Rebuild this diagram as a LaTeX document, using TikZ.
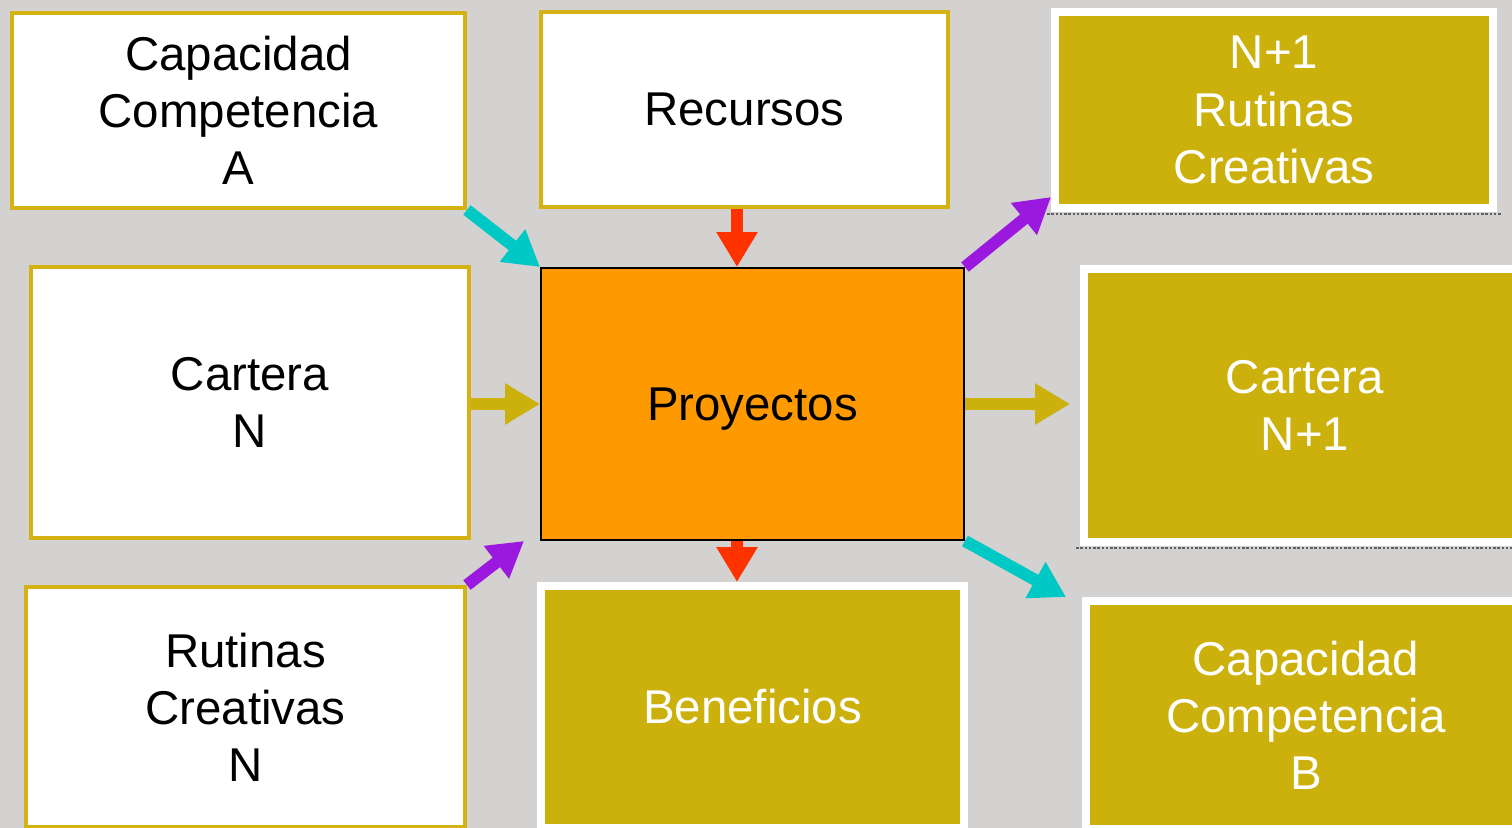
\documentclass[tikz,border=0pt]{standalone}
\usepackage{fontspec}
\setmainfont{Liberation Sans}
\usepackage{xcolor}
\usetikzlibrary{arrows.meta}
\definecolor{fondo}{RGB}{212,210,208}
\definecolor{borde}{RGB}{212,178,20}
\definecolor{oro}{RGB}{204,176,12}
\definecolor{naranja}{RGB}{255,153,0}
\definecolor{turquesa}{RGB}{0,200,196}
\definecolor{morado}{RGB}{155,25,222}
\definecolor{rojo}{RGB}{255,51,0}
\definecolor{sombragris}{RGB}{95,95,95}

\begin{document}
\begin{tikzpicture}[x=0.02cm, y=-0.02cm,
  caja/.style={draw=borde, line width=0.08cm, fill=white, inner sep=0pt, align=center, font=\fontsize{27}{32.5}\selectfont},
  cajaoro/.style={draw=white, line width=0.16cm, fill=oro, text=white, inner sep=0pt, align=center, font=\fontsize{27}{32.5}\selectfont},
  flecha/.style={line width=0.24cm, -{Triangle[length=0.7cm, width=0.78cm]}},
  sombra/.style={draw=sombragris, line width=0.05cm, densely dotted}]
\useasboundingbox (0,0) rectangle (1512,828);
\clip (0,0) rectangle (1512,828);
\fill[fondo] (0,0) rectangle (1512,828);

\node[caja, minimum width=9.06cm, minimum height=3.90cm] (capA) at (238.5,110.5) {Capacidad\\Competencia\\A};
\node[caja, minimum width=8.14cm, minimum height=3.90cm] (rec) at (744.5,109.5) {Recursos};
\node[cajaoro, minimum width=8.76cm, minimum height=3.92cm] (rut1) at (1274,110) {N+1\\Rutinas\\Creativas};
\node[caja, minimum width=8.76cm, minimum height=5.42cm] (cartN) at (250,402.5) {Cartera\\N};
\node[draw=black, line width=0.04cm, fill=naranja, inner sep=0pt, text depth=0pt, minimum width=8.46cm, minimum height=5.44cm, font=\fontsize{27}{32.5}\selectfont] (proy) at (752.5,404) {Proyectos};
\node[cajaoro, minimum width=8.84cm, minimum height=5.46cm] (cart1) at (1305,405.5) {Cartera\\N+1};
\node[caja, minimum width=8.78cm, minimum height=4.80cm] (rutN) at (245.5,707) {Rutinas\\Creativas\\N};
\node[cajaoro, minimum width=8.46cm, minimum height=4.84cm] (ben) at (752.5,707) {Beneficios};
\node[cajaoro, minimum width=8.80cm, minimum height=4.56cm] (capB) at (1306,715) {Capacidad\\Competencia\\B};

% sombras punteadas
\draw[sombra] ([xshift=-0.08cm, yshift=-0.045cm]rut1.south west) -- ([xshift=0.08cm, yshift=-0.045cm]rut1.south east);
\draw[sombra] ([xshift=-0.08cm, yshift=-0.045cm]cart1.south west) -- ([xshift=0.08cm, yshift=-0.045cm]cart1.south east);

% flechas
\coordinate (eje) at (737,0);
\draw[flecha, turquesa] (capA.south east) -- (proy.north west);
\draw[flecha, rojo] (rec.south -| eje) -- (proy.north -| eje);
\draw[flecha, morado] (proy.north east) -- ([yshift=0.3cm]rut1.south west);
\draw[flecha, oro] (cartN.east |- proy.west) -- (proy.west);
\draw[flecha, oro] (proy.east) -- ([xshift=-0.2cm]cart1.west |- proy.east);
\draw[flecha, morado] (rutN.north east) -- ([xshift=-0.32cm]proy.south west);
\draw[flecha, rojo] (proy.south -| eje) -- (ben.north -| eje);
\draw[flecha, turquesa] (proy.south east) -- ([xshift=-0.32cm]capB.north west);
\end{tikzpicture}
\end{document}
